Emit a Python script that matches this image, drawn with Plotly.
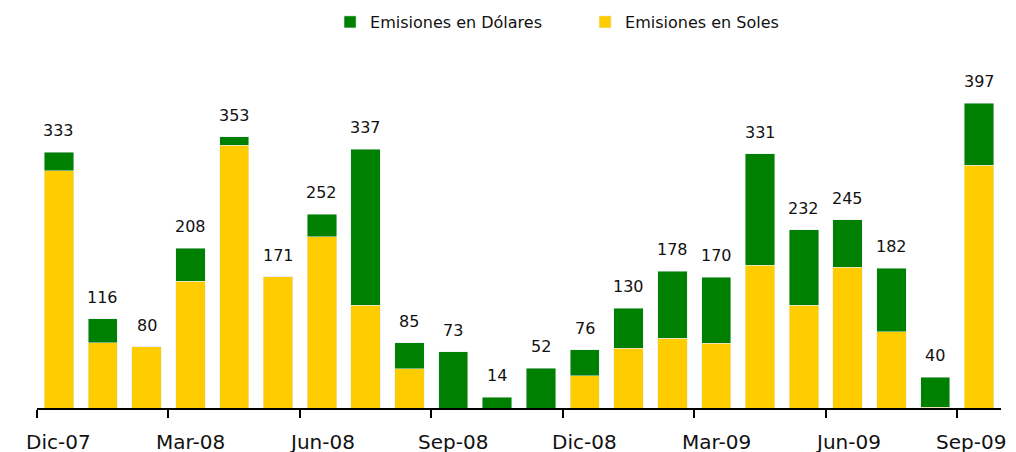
import plotly.graph_objects as go

# monthly issuance, millions
months = ["Dic-07", "Ene-08", "Feb-08", "Mar-08", "Abr-08", "May-08", "Jun-08", "Jul-08",
          "Ago-08", "Sep-08", "Oct-08", "Nov-08", "Dic-08", "Ene-09", "Feb-09", "Mar-09",
          "Abr-09", "May-09", "Jun-09", "Jul-09", "Ago-09", "Sep-09"]
soles = [309, 85, 80, 165, 342, 171, 223, 134, 51, 0, 0, 0,
         42, 78, 91, 84, 186, 134, 183, 99, 1, 316]
dolares = [24, 31, 0, 43, 11, 0, 29, 203, 34, 73, 14, 52,
           34, 52, 87, 86, 145, 98, 62, 83, 39, 81]
totals = [333, 116, 80, 208, 353, 171, 252, 337, 85, 73, 14, 52,
          76, 130, 178, 170, 331, 232, 245, 182, 40, 397]

YELLOW = "#FFCC00"
GREEN = "#008000"
FONT = "DejaVu Sans"

x = list(range(len(months)))

fig = go.Figure()
fig.add_trace(go.Bar(x=x, y=soles, name="Emisiones en Soles", marker_color=YELLOW))
fig.add_trace(go.Bar(x=x, y=dolares, name="Emisiones en Dólares", marker_color=GREEN))

annotations = []
for i, t in enumerate(totals):
    annotations.append(dict(x=i, y=t, xref="x", yref="y", text=str(t), showarrow=False,
                            yanchor="bottom", yshift=10,
                            font=dict(family=FONT, size=16, color="#111111")))
# quarter labels under the first month of each quarter
for i in range(0, len(months), 3):
    annotations.append(dict(x=i, y=0, xref="x", yref="paper", text=months[i], showarrow=False,
                            yanchor="top", yshift=-20,
                            xshift=-8 if i == len(months) - 1 else 0,  # keep last one on page
                            font=dict(family=FONT, size=20, color="#111111")))

# page body adds an 8px offset, so margins are set with that in mind
fig.update_layout(
    width=1000, height=452,
    barmode="stack", bargap=0.33,
    plot_bgcolor="white", paper_bgcolor="white",
    margin=dict(l=29, r=7, t=52, b=52, autoexpand=False),
    font=dict(family=FONT, color="#111111"),
    legend=dict(orientation="h", traceorder="reversed", x=0.304, xanchor="left",
                y=1.158, yanchor="top", font=dict(size=16), entrywidth=210),
    annotations=annotations,
)
fig.update_xaxes(range=[-0.5, len(months) - 0.5],
                 tickvals=[i - 0.5 for i in range(0, len(months) + 1, 3)],
                 showticklabels=False, ticks="outside", ticklen=8, tickwidth=2,
                 tickcolor="black", showline=True, linecolor="black", linewidth=2,
                 showgrid=False, zeroline=False)
fig.update_yaxes(range=[0, 453], visible=False)

fig.write_html("out.html")
